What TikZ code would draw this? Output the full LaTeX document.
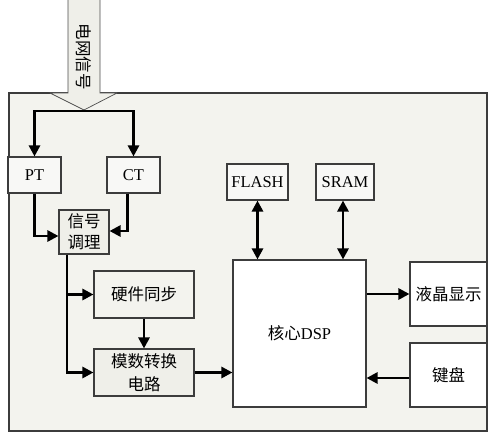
\documentclass[tikz,border=0pt]{standalone}
\usepackage{fontspec}
\setmainfont{Liberation Serif}
\newfontfamily\cjk{Noto Sans CJK SC}
\usetikzlibrary{arrows.meta}
\definecolor{panel}{HTML}{F3F3EE}
\definecolor{boxfill}{HTML}{F8F8F6}
\definecolor{darkfill}{HTML}{EFEFE9}
\definecolor{edge}{HTML}{3C3C3C}
\tikzset{
  box/.style={draw=edge,line width=1.1pt,fill=boxfill,inner sep=0pt,align=center,font=\fontsize{16.5}{21}\selectfont},
  conn/.style={line width=2.7pt,-{Triangle[length=11pt,width=11pt]}},
  biconn/.style={line width=2.7pt,{Triangle[length=11pt,width=11pt]}-{Triangle[length=11pt,width=11pt]}}
}
\begin{document}
\begin{tikzpicture}[x=1pt,y=-1pt]
	    \useasboundingbox (0,0) rectangle (490,441);
	    \draw[edge,line width=1.1pt,fill=panel] (9,93) rectangle (487,431);
	    % incoming signal arrow
	    \fill[darkfill] (68,0) -- (68,93) -- (50,93) -- (84,110) -- (117,93) -- (100,93) -- (100,0) -- cycle;
	    \draw[gray!60!black,line width=0.7pt] (68,0) -- (68,93) -- (50,93) -- (84,110) -- (117,93) -- (100,93) -- (100,0);
	    \node[rotate=-90,font=\fontsize{16.5}{20}\selectfont] (grid) at (84,57) {\cjk 电网信号};
	    \coordinate (split) at (84,111);
	    \node[box,minimum width=53pt,minimum height=36pt] (pt) at (34.5,175) {PT};
	    \node[box,minimum width=53pt,minimum height=36pt] (ct) at (133.5,175) {CT};
	    \node[box,fill=darkfill,minimum width=50pt,minimum height=44pt,font=\fontsize{16.5}{21}\selectfont] (sig) at (84,232) {\cjk 信号\\\cjk 调理};
	    \node[box,fill=panel,minimum width=100pt,minimum height=47pt] (sync) at (144,294.5) {\cjk 硬件同步};
	    \node[box,fill=darkfill,minimum width=100pt,minimum height=47pt,font=\fontsize{16.5}{23}\selectfont] (adc) at (144,372.5) {\cjk 模数转换\\\cjk 电路};
	    \node[box,fill=white,minimum width=133pt,minimum height=147pt] (dsp) at (299.5,333.5) {{\cjk 核心}DSP};
	    \node[box,minimum width=61pt,minimum height=36pt] (flash) at (257.5,182) {FLASH};
	    \node[box,minimum width=58pt,minimum height=36pt] (sram) at (345,182) {SRAM};
	    \node[box,fill=white,minimum width=77pt,minimum height=64pt] (lcd) at (448.5,294) {\cjk 液晶显示};
	    \node[box,fill=white,minimum width=77pt,minimum height=64pt] (key) at (448.5,375) {\cjk 键盘};
	    % connectors
	    \draw[conn] (split) -| (pt.north);
	    \draw[conn] (split) -| (ct.north);
	    \draw[conn] (pt.south) |- ([yshift=-4pt]sig.west);
	    \draw[conn] ([xshift=-6pt]ct.south) |- ([yshift=1pt]sig.east);
	    \draw[conn] ([xshift=-17pt]sig.south) |- (sync.west);
	    \draw[conn] ([xshift=-17pt]sig.south) |- (adc.west);
	    \draw[conn] (sync.south) -- (adc.north);
	    \draw[conn] (adc.east) -- (adc.east -| dsp.west);
	    \draw[biconn] (flash.south) -- (flash.south |- dsp.north);
	    \draw[biconn] ([xshift=-2pt]sram.south) -- ([xshift=-2pt]sram.south |- dsp.north);
	    \draw[conn] (lcd.west -| dsp.east) -- (lcd.west);
	    \draw[conn] ([yshift=-3pt]key.west) -- ([yshift=-3pt]key.west -| dsp.east);
	\end{tikzpicture}
\end{document}
